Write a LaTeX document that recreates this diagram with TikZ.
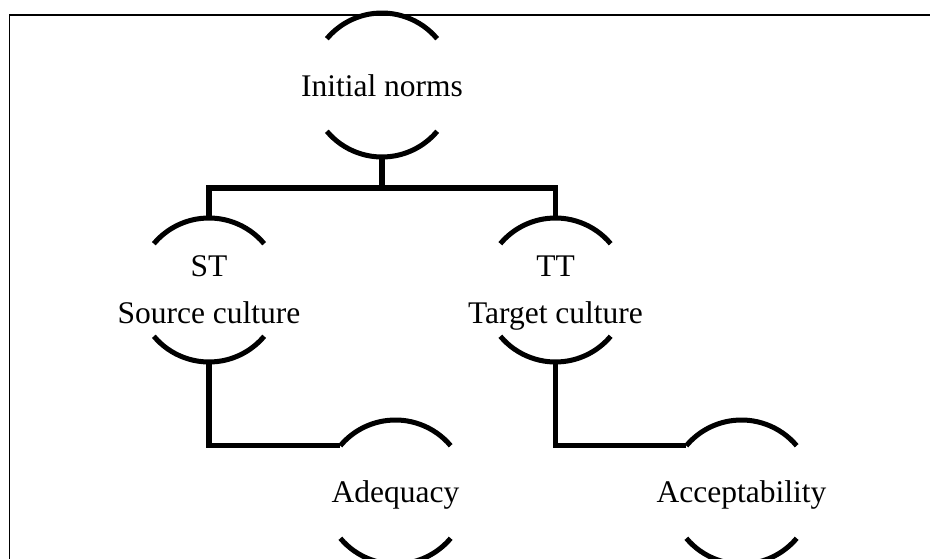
\documentclass[tikz,border=0pt]{standalone}
\usepackage{fontspec}
\setmainfont{Liberation Serif}
\begin{document}
\begin{tikzpicture}[x=1pt,y=1pt,
  ring/.style={circle,minimum size=144pt,inner sep=0pt,outer sep=0pt},
  arcline/.style={line width=5pt,line cap=butt},
  wire/.style={line width=5.5pt,line join=miter},
  lbl/.style={anchor=base,inner sep=0pt,font=\fontsize{31.5}{38}\selectfont}]
  \useasboundingbox (0,0) rectangle (930,558);
  \clip (0,0) rectangle (930,558);
  \fill[white] (0,0) rectangle (930,558);
  % outer frame
  \draw[line width=1.8pt] (9.5,-20) -- (9.5,543) -- (960,543);

  % circular nodes
  \node[ring] (init) at (382,473) {};
  \node[ring] (st)   at (209,268) {};
  \node[ring] (tt)   at (555.5,268) {};
  \node[ring] (adq)  at (395.5,66) {};
  \node[ring] (acc)  at (741.5,66) {};

  % open arcs above and below each node
  \foreach \n in {init,st,tt,adq,acc}{
    \draw[arcline] (\n.40) arc[start angle=40,end angle=140,radius=72pt];
    \draw[arcline] (\n.220) arc[start angle=220,end angle=320,radius=72pt];
  }

  % labels
  \node[lbl] (initT) at (382,461) {Initial norms};
  \node[lbl] (stA)   at (209,281) {ST};
  \node[lbl] (stB)   at (209,235) {Source culture};
  \node[lbl] (ttA)   at (555.5,281) {TT};
  \node[lbl] (ttB)   at (555.5,235) {Target culture};
  \node[lbl] (adqT)  at (395.5,56) {Adequacy};
  \node[lbl] (accT)  at (741.5,56) {Acceptability};

  % connectors
  \coordinate (split) at (382,370);
  \draw[wire] (init.south) -- (split);
  \draw[wire] (st.north) |- (split) -| (tt.north);
  \draw[wire] (st.south) |- (adq.140);
  \draw[wire] (tt.south) |- (acc.140);
\end{tikzpicture}
\end{document}
